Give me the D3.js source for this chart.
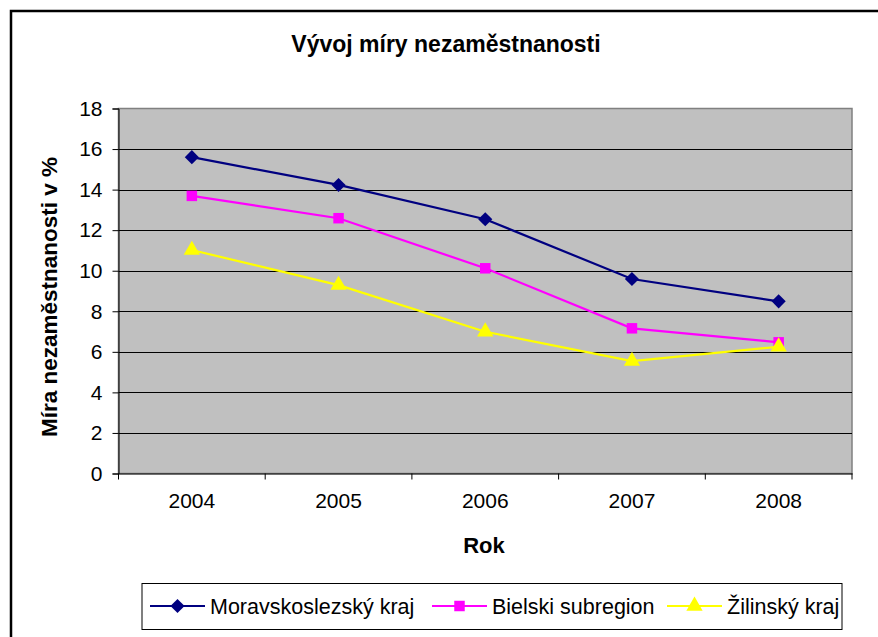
<!DOCTYPE html>
<meta charset="utf-8">
<script src="https://d3js.org/d3.v7.min.js"></script>
<style>
  body { margin: 0; background: #fff; }
  text { font-family: "Liberation Sans", Arial, sans-serif; }
</style>
<div id="chart"></div>
<script>
// data
var years = ["2004", "2005", "2006", "2007", "2008"];
var moravskoslezsky = [15.6, 14.23, 12.54, 9.59, 8.49];
var bielski = [13.69, 12.59, 10.12, 7.16, 6.47];
var zilinsky = [11.02, 9.29, 6.99, 5.54, 6.25];
var seriesNames = ["Moravskoslezský kraj", "Bielski subregion", "Žilinský kraj"];
var yTicks = [0, 2, 4, 6, 8, 10, 12, 14, 16, 18];

var series = [
  {name: seriesNames[0], values: moravskoslezsky, color: "#000080", symbol: d3.symbolSquare, size: 100, rot: 45},
  {name: seriesNames[1], values: bielski, color: "#FF00FF", symbol: d3.symbolSquare, size: 110, rot: 0},
  {name: seriesNames[2], values: zilinsky, color: "#FFFF00", symbol: d3.symbolTriangle, size: 115, rot: 0}
];

var W = 878, H = 637;
var plot = {left: 118.5, top: 108.5, right: 852, bottom: 473.5};

var svg = d3.select("#chart").append("svg")
  .attr("width", W).attr("height", H);

// outer chart frame (runs off the right/bottom of the picture)
svg.append("rect")
  .attr("x", 11).attr("y", 11)
  .attr("width", 900).attr("height", 700)
  .attr("fill", "#fff").attr("stroke", "#000").attr("stroke-width", 2.5);

var x = d3.scaleBand().domain(years).range([plot.left, plot.right]);
var y = d3.scaleLinear().domain([0, 18]).range([plot.bottom, plot.top]);

// plot background
svg.append("rect")
  .attr("x", plot.left).attr("y", plot.top)
  .attr("width", plot.right - plot.left).attr("height", plot.bottom - plot.top)
  .attr("fill", "#C0C0C0").attr("stroke", "#808080").attr("stroke-width", 1.5);

// gridlines
svg.append("g").selectAll("line")
  .data(yTicks.filter(function(d) { return d > 0 && d < 18; }))
  .enter().append("line")
  .attr("x1", plot.left).attr("x2", plot.right)
  .attr("y1", function(d) { return Math.round(y(d)) + 0.5; })
  .attr("y2", function(d) { return Math.round(y(d)) + 0.5; })
  .attr("stroke", "#000").attr("stroke-width", 1);

// y axis
var yAxis = svg.append("g")
  .attr("transform", "translate(" + plot.left + ",0)")
  .call(d3.axisLeft(y).tickValues(yTicks).tickSize(6).tickPadding(10));
yAxis.select(".domain").attr("stroke", "#000");
yAxis.selectAll("text").attr("font-size", 21).attr("fill", "#000")
  .attr("font-family", "Liberation Sans, Arial, sans-serif");

// x axis, ticks on the category boundaries
var xAxis = svg.append("g")
  .attr("transform", "translate(0," + plot.bottom + ")")
  .call(d3.axisBottom(x).tickSize(0).tickPadding(20));
xAxis.select(".domain").attr("stroke", "#000");
xAxis.selectAll("text").attr("font-size", 21).attr("fill", "#000")
  .attr("font-family", "Liberation Sans, Arial, sans-serif");
svg.append("g").selectAll("line")
  .data(years.concat(["end"]))
  .enter().append("line")
  .attr("x1", function(d, i) { return plot.left + i * x.step(); })
  .attr("x2", function(d, i) { return plot.left + i * x.step(); })
  .attr("y1", plot.bottom).attr("y2", plot.bottom + 6)
  .attr("stroke", "#000");

// lines and markers
var line = d3.line()
  .x(function(d, i) { return x(years[i]) + x.bandwidth() / 2; })
  .y(function(d) { return y(d); });

series.forEach(function(s) {
  svg.append("path")
    .datum(s.values)
    .attr("d", line)
    .attr("fill", "none").attr("stroke", s.color).attr("stroke-width", 2.2);
  svg.append("g").selectAll("path")
    .data(s.values)
    .enter().append("path")
    .attr("d", d3.symbol().type(s.symbol).size(s.size))
    .attr("transform", function(d, i) {
      return "translate(" + (x(years[i]) + x.bandwidth() / 2) + "," + y(d) + ") rotate(" + s.rot + ")";
    })
    .attr("fill", s.color);
});

// titles
svg.append("text")
  .attr("x", 446).attr("y", 52)
  .attr("text-anchor", "middle").attr("font-size", 23).attr("font-weight", "bold")
  .text("Vývoj míry nezaměstnanosti");

svg.append("text")
  .attr("x", 484).attr("y", 553)
  .attr("text-anchor", "middle").attr("font-size", 22).attr("font-weight", "bold")
  .text("Rok");

svg.append("text")
  .attr("transform", "translate(57,297) rotate(-90)")
  .attr("text-anchor", "middle").attr("font-size", 22.5).attr("font-weight", "bold")
  .text("Míra nezaměstnanosti v %");

// legend
var legend = svg.append("g");
legend.append("rect")
  .attr("x", 142).attr("y", 583.5).attr("width", 700).attr("height", 46)
  .attr("fill", "#fff").attr("stroke", "#000").attr("stroke-width", 1);

var legendX = [150, 432, 667];
series.forEach(function(s, i) {
  var g = legend.append("g").attr("transform", "translate(" + legendX[i] + ",606)");
  g.append("line").attr("x1", 0).attr("x2", 55)
    .attr("stroke", s.color).attr("stroke-width", 2.2);
  g.append("path")
    .attr("d", d3.symbol().type(s.symbol).size(s.size))
    .attr("transform", "translate(27.5,0) rotate(" + s.rot + ")")
    .attr("fill", s.color);
  g.append("text")
    .attr("x", 60).attr("y", 0).attr("dy", "0.35em")
    .attr("font-size", 21.5)
    .text(s.name);
});
</script>
